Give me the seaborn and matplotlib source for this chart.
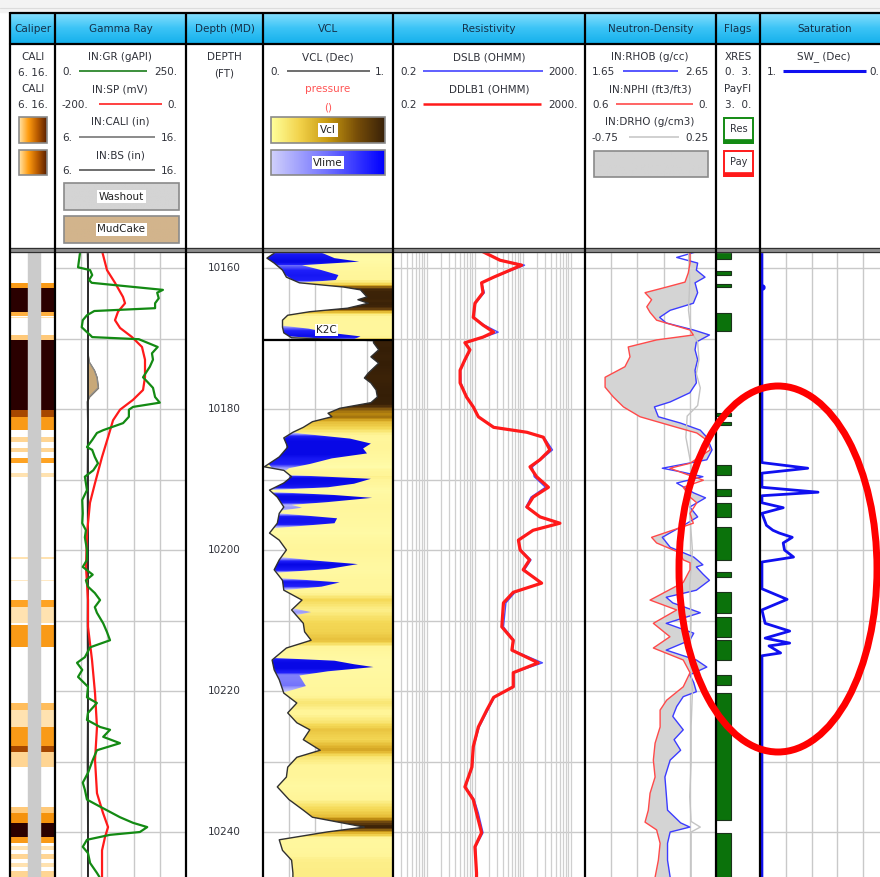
import numpy as np
import matplotlib
matplotlib.use("Agg")
import matplotlib.pyplot as plt
import seaborn as sns
from matplotlib.colors import LinearSegmentedColormap, Normalize
from matplotlib.patches import Rectangle, Ellipse

sns.set_theme(style="white")
plt.rcParams["font.family"] = ["DejaVu Sans"]

# ---------------------------------------------------------------- data
TRACK_TITLES = ["Caliper", "Gamma Ray", "Depth (MD)", "VCL", "Resistivity",
                "Neutron-Density", "Flags", "Saturation"]
DEPTH_LABELS = [10160, 10180, 10200, 10220, 10240]
GRID_DEPTHS = [10160, 10170, 10180, 10190, 10200, 10210, 10220, 10230, 10240]

GR_DEPTH = [10157.7, 10159.9, 10160.3, 10161.0, 10161.7, 10162.1, 10163.1, 10163.5, 10164.3,
            10165.0, 10165.7, 10166.1, 10166.7, 10167.4, 10168.4, 10169.1, 10169.5, 10169.8,
            10170.1, 10171.2, 10172.1, 10173.0, 10174.0, 10175.5, 10176.2, 10177.0, 10178.3,
            10179.1, 10179.7, 10180.1, 10181.1, 10182.0, 10183.0, 10183.4, 10184.4, 10185.4,
            10185.8, 10186.8, 10187.7, 10188.7, 10189.6, 10191.5, 10192.9, 10194.8, 10196.2,
            10197.2, 10198.2, 10200.0, 10201.4, 10202.4, 10203.5, 10204.3, 10205.2, 10206.1,
            10207.1, 10208.1, 10208.9, 10210.4, 10211.6, 10212.8, 10213.8, 10215.2, 10216.0,
            10217.0, 10218.0, 10219.4, 10220.9, 10221.7, 10223.1, 10224.1, 10225.1, 10225.5,
            10226.5, 10227.4, 10228.4, 10229.8, 10231.6, 10233.0, 10234.0, 10235.4, 10236.4,
            10237.9, 10238.7, 10239.3, 10240.0, 10240.4, 10241.1, 10242.1, 10243.0, 10244.4,
            10245.8, 10246.4]
GR = [48, 44, 67, 71, 65, 70, 206, 195, 198,
      191, 191, 75, 61, 53, 51, 61, 67, 71,
      160, 196, 185, 187, 181, 168, 177, 187, 191,
      200, 149, 141, 141, 130, 92, 80, 71, 61,
      71, 76, 82, 73, 57, 61, 52, 53, 52,
      59, 57, 61, 61, 53, 72, 59, 63, 76,
      86, 76, 80, 92, 99, 105, 67, 57, 42,
      52, 44, 63, 61, 80, 63, 61, 86, 105,
      92, 124, 80, 72, 63, 53, 57, 61, 86,
      124, 149, 176, 162, 105, 61, 53, 63, 67,
      80, 85]

SP_DEPTH = [10157.4, 10160.3, 10162.1, 10164.1, 10165.0, 10166.2, 10167.4, 10168.5, 10169.8,
            10171.2, 10173.0, 10175.5, 10177.3, 10178.7, 10180.1, 10181.6, 10184.0, 10186.8,
            10190.5, 10193.3, 10197.6, 10202.4, 10207.1, 10210.9, 10215.6, 10220.3, 10225.1,
            10229.8, 10234.5, 10237.3, 10239.3, 10240.7, 10242.6, 10246.4]
SP = [-128.7, -120.6, -108.4, -96.2, -93.1, -103.8, -108.4, -100.7, -82.4,
      -67.2, -62.6, -62.6, -65.6, -80.9, -100.7, -111.4, -119.0, -128.2,
      -138.9, -146.6, -151.1, -152.7, -149.6, -149.6, -143.5, -138.9, -135.9,
      -138.9, -135.9, -126.7, -119.0, -123.6, -128.2, -128.2]

CALI_DEPTH = [10157.7, 10162.0, 10166.0, 10169.0, 10172.0, 10173.3, 10174.5, 10175.5, 10177.0,
              10178.3, 10179.0, 10182.0, 10190.0, 10200.0, 10210.0, 10220.0, 10230.0, 10240.0,
              10246.4]
CALI = [8.45, 8.55, 8.5, 8.55, 8.5, 8.6, 9.0, 9.2, 9.3,
        8.6, 8.45, 8.5, 8.45, 8.5, 8.45, 8.5, 8.45, 8.5, 8.5]
BS = 8.5

# caliper image bands: top, bottom, intensity (0 white -> 1 dark brown)
CALIMG_TOP = [10162.1, 10162.8, 10166.2, 10166.9, 10169.5, 10170.2, 10180.1, 10181.1, 10184.0,
              10185.5, 10187.0, 10189.1, 10201.0, 10204.2, 10207.1, 10208.1, 10210.6, 10221.7,
              10222.7, 10225.1, 10227.9, 10228.7, 10236.4, 10237.3, 10238.7, 10240.8, 10242.0,
              10243.2, 10244.4, 10245.5]
CALIMG_BOT = [10162.8, 10166.2, 10166.7, 10167.1, 10170.2, 10180.1, 10181.1, 10183.0, 10184.7,
              10186.1, 10187.7, 10189.6, 10201.2, 10204.4, 10208.1, 10210.4, 10213.8, 10222.7,
              10225.1, 10227.9, 10228.7, 10230.8, 10237.3, 10238.7, 10240.8, 10241.6, 10242.6,
              10243.8, 10245.0, 10246.4]
CALIMG_LEVEL = [0.5, 1.0, 0.4, 0.2, 0.3, 1.0, 0.75, 0.5, 0.25,
                0.25, 0.45, 0.2, 0.2, 0.15, 0.45, 0.2, 0.5, 0.35,
                0.2, 0.5, 0.75, 0.25, 0.3, 0.55, 1.0, 0.5, 0.2,
                0.25, 0.2, 0.25]

VCL_DEPTH = [10157.7, 10157.9, 10158.6, 10159.3, 10160.3, 10161.3, 10162.1, 10162.7, 10163.1,
             10164.1, 10164.5, 10165.0, 10165.7, 10166.2, 10166.7, 10167.4, 10168.4, 10169.2,
             10169.9, 10170.3, 10170.6, 10171.6, 10172.6, 10173.5, 10174.9, 10175.6, 10176.3,
             10177.3, 10178.3, 10179.1, 10179.9, 10180.6, 10181.1, 10181.8, 10182.6, 10183.3,
             10184.1, 10185.4, 10186.8, 10188.2, 10188.7, 10189.6, 10190.5, 10191.5, 10192.5,
             10193.9, 10194.8, 10196.2, 10197.6, 10198.6, 10200.0, 10201.4, 10202.8, 10204.3,
             10205.7, 10207.1, 10208.5, 10210.4, 10211.6, 10212.8, 10213.9, 10215.6, 10217.0,
             10218.4, 10220.3, 10221.7, 10223.1, 10224.5, 10225.5, 10226.9, 10228.4, 10229.4,
             10230.8, 10232.2, 10233.6, 10235.4, 10236.9, 10237.9, 10239.3, 10240.0, 10241.1,
             10242.6, 10244.0, 10245.8, 10246.5]
VCL = [0.08, 0.086, 0.03, 0.086, 0.15, 0.18, 0.28, 0.62, 0.75,
       0.80, 0.73, 0.81, 0.65, 0.36, 0.19, 0.15, 0.15, 0.16,
       0.22, 0.85, 0.85, 0.89, 0.83, 0.89, 0.81, 0.78, 0.83,
       0.87, 0.88, 0.83, 0.59, 0.50, 0.53, 0.38, 0.31, 0.23,
       0.16, 0.19, 0.125, 0.01, 0.16, 0.22, 0.16, 0.05, 0.11,
       0.16, 0.125, 0.11, 0.05, 0.125, 0.18, 0.125, 0.086, 0.15,
       0.16, 0.30, 0.22, 0.31, 0.32, 0.37, 0.18, 0.07, 0.086,
       0.125, 0.16, 0.26, 0.19, 0.26, 0.36, 0.31, 0.44, 0.26,
       0.19, 0.18, 0.11, 0.20, 0.31, 0.38, 0.78, 0.49, 0.125,
       0.15, 0.22, 0.23, 0.23]

# Vlime shading: right edge (VCL + Vlime) for each limestone interval
VLIME_DEPTHS = [
    [10157.7, 10157.9, 10158.6, 10159.1, 10159.6, 10160.3, 10161.0, 10161.7, 10162.1],
    [10168.2, 10168.6, 10169.2, 10169.7, 10170.1],
    [10183.3, 10183.5, 10184.2, 10184.9, 10185.6, 10186.3, 10187.0, 10187.8, 10188.4, 10188.8],
    [10189.4, 10189.9, 10190.6, 10191.1, 10191.5],
    [10191.8, 10192.2, 10192.6, 10193.2, 10193.6, 10194.0, 10194.4],
    [10194.8, 10195.5, 10196.2, 10196.9],
    [10201.0, 10201.5, 10202.0, 10202.7, 10203.2],
    [10204.0, 10204.6, 10205.2, 10205.7],
    [10208.3, 10208.8, 10209.3],
    [10215.3, 10215.7, 10216.2, 10216.6, 10217.2, 10217.8, 10218.4, 10219.3, 10220.2],
]
VLIME_EDGES = [
    [0.40, 0.46, 0.55, 0.74, 0.30, 0.45, 0.58, 0.56, 0.28],
    [0.16, 0.35, 0.52, 0.75, 0.70],
    [0.23, 0.30, 0.67, 0.83, 0.77, 0.80, 0.53, 0.36, 0.20, 0.17],
    [0.25, 0.83, 0.70, 0.50, 0.06],
    [0.10, 0.55, 0.84, 0.50, 0.22, 0.30, 0.14],
    [0.13, 0.57, 0.55, 0.09],
    [0.14, 0.40, 0.73, 0.50, 0.12],
    [0.15, 0.59, 0.45, 0.16],
    [0.24, 0.37, 0.24],
    [0.08, 0.55, 0.70, 0.85, 0.50, 0.28, 0.30, 0.33, 0.16],
]

RES_DEPTH = [10157.7, 10158.9, 10159.6, 10160.3, 10161.3, 10162.1, 10163.5, 10165.0, 10167.0,
             10168.1, 10169.1, 10169.8, 10170.6, 10171.6, 10173.0, 10174.5, 10176.3, 10178.3,
             10179.7, 10181.1, 10182.6, 10183.3, 10184.0, 10185.8, 10187.2, 10188.2, 10189.6,
             10191.1, 10192.5, 10193.9, 10195.3, 10196.2, 10197.2, 10198.6, 10200.0, 10201.4,
             10202.8, 10204.7, 10206.0, 10207.5, 10210.9, 10212.8, 10214.2, 10216.0, 10217.4,
             10219.4, 10220.9, 10222.7, 10225.1, 10227.9, 10230.8, 10233.6, 10235.4, 10237.3,
             10240.1, 10242.1, 10245.8, 10246.4]
DDLB1 = [15, 34, 96, 55, 25, 14, 15, 10.2, 9.4,
         15, 25, 15, 6.3, 8, 6.3, 5.0, 5.0, 6.8,
         9.4, 12, 25, 123, 270, 372, 230, 143, 196,
         346, 166, 123, 230, 600, 166, 82, 89, 140,
         103, 250, 64, 40, 37, 64, 60, 212, 64,
         64, 25, 18, 12, 9.4, 8.8, 6.3, 9.4, 11,
         14, 10.2, 11, 11]
DSLB = [15, 36, 110, 60, 26, 14, 16, 10.5, 9.6,
        16, 31, 16, 6.5, 8.2, 6.5, 5.1, 5.2, 7.0,
        9.6, 12, 26, 120, 280, 420, 240, 160, 175,
        300, 150, 118, 240, 560, 160, 80, 92, 150,
        110, 235, 70, 45, 40, 66, 62, 260, 66,
        66, 26, 19, 12.5, 9.6, 9.0, 6.5, 9.8, 12,
        15, 10.5, 11, 11]

RHOB_DEPTH = [10157.7, 10158.5, 10159.3, 10160.3, 10161.3, 10162.1, 10163.5, 10165.0, 10166.0,
              10167.0, 10167.8, 10168.8, 10169.5, 10170.5, 10171.6, 10173.0, 10174.5, 10176.3,
              10177.7, 10179.0, 10179.7, 10181.1, 10182.0, 10183.0, 10184.0, 10185.8, 10187.2,
              10188.4, 10188.9, 10189.6, 10190.5, 10191.9, 10192.6, 10193.9, 10195.3, 10196.2,
              10198.2, 10199.6, 10201.0, 10202.1, 10202.4, 10203.4, 10204.3, 10205.7, 10206.7,
              10207.5, 10208.9, 10210.4, 10211.8, 10212.8, 10214.2, 10215.6, 10216.6, 10217.7,
              10218.8, 10220.1, 10220.8, 10222.2, 10223.6, 10225.5, 10226.9, 10228.4, 10229.8,
              10232.2, 10234.5, 10236.9, 10238.7, 10239.3, 10240.0, 10241.6, 10244.0, 10246.4]
RHOB = [2.50, 2.35, 2.51, 2.50, 2.566, 2.49, 2.51, 2.477, 2.30,
        2.22, 2.27, 2.48, 2.60, 2.50, 2.49, 2.51, 2.49, 2.50,
        2.45, 2.30, 2.18, 2.21, 2.38, 2.53, 2.58, 2.62, 2.58,
        2.24, 2.38, 2.55, 2.35, 2.48, 2.57, 2.45, 2.51, 2.43,
        2.24, 2.30, 2.48, 2.55, 2.50, 2.55, 2.60, 2.50, 2.27,
        2.32, 2.53, 2.27, 2.48, 2.45, 2.27, 2.50, 2.58, 2.45,
        2.48, 2.50, 2.40, 2.35, 2.32, 2.40, 2.33, 2.38, 2.30,
        2.26, 2.27, 2.28, 2.38, 2.45, 2.30, 2.28, 2.28, 2.30]

NPHI_DEPTH = [10157.7, 10159.3, 10160.7, 10162.0, 10162.7, 10163.5, 10164.5, 10165.5, 10166.3,
              10167.4, 10168.8, 10169.5, 10170.2, 10171.2, 10172.6, 10174.0, 10175.5, 10176.9,
              10178.3, 10179.7, 10181.1, 10182.6, 10183.4, 10184.4, 10185.8, 10187.7, 10188.4,
              10189.1, 10190.1, 10191.1, 10192.5, 10193.3, 10194.8, 10196.2, 10198.2, 10199.0,
              10200.4, 10201.4, 10201.8, 10202.8, 10204.6, 10207.1, 10208.5, 10210.4, 10212.3,
              10213.9, 10215.6, 10217.4, 10219.4, 10221.3, 10222.7, 10225.1, 10227.4, 10229.8,
              10232.2, 10234.5, 10236.9, 10238.6, 10239.7, 10241.6, 10244.0, 10246.4]
NPHI = [0.119, 0.119, 0.127, 0.142, 0.226, 0.325, 0.295, 0.317, 0.302,
        0.272, 0.119, 0.104, 0.272, 0.402, 0.394, 0.417, 0.508, 0.508,
        0.47, 0.424, 0.348, 0.18, 0.088, 0.043, 0.027, 0.119, 0.211,
        0.15, 0.058, 0.15, 0.119, 0.088, 0.119, 0.104, 0.295, 0.272,
        0.165, 0.15, 0.119, 0.119, 0.15, 0.302, 0.18, 0.287, 0.211,
        0.287, 0.15, 0.119, 0.15, 0.226, 0.256, 0.256, 0.279, 0.287,
        0.279, 0.302, 0.31, 0.325, 0.272, 0.256, 0.264, 0.279]

DRHO_DEPTH = [10157.7, 10162.0, 10166.0, 10169.0, 10170.5, 10173.0, 10175.0, 10177.0, 10179.5,
              10181.0, 10184.0, 10186.0, 10188.0, 10195.0, 10200.0, 10205.0, 10210.0, 10215.0,
              10220.0, 10225.0, 10230.0, 10235.0, 10238.5, 10239.3, 10240.0, 10246.4]
DRHO = [0.04, 0.05, 0.04, 0.06, 0.11, 0.12, 0.10, 0.13, 0.11,
        0.03, 0.02, 0.04, 0.06, 0.05, 0.07, 0.05, 0.06, 0.05,
        0.07, 0.06, 0.06, 0.05, 0.06, 0.13, 0.06, 0.06]

RES_FLAG_TOP = [10157.7, 10160.4, 10162.3, 10166.4, 10180.6, 10181.8, 10187.9, 10191.3, 10193.3,
                10196.7, 10203.1, 10206.0, 10209.5, 10212.8, 10217.7, 10220.3, 10240.1]
RES_FLAG_BOT = [10158.7, 10161.0, 10162.7, 10168.9, 10181.0, 10182.3, 10189.4, 10192.3, 10195.3,
                10201.4, 10203.8, 10208.9, 10212.3, 10215.6, 10219.1, 10238.3, 10246.5]
XRES = 1.0

SW_DEPTH = [10157.7, 10187.6, 10188.4, 10189.1, 10191.1, 10191.8, 10192.3, 10193.3, 10194.0,
            10194.8, 10196.5, 10197.2, 10197.6, 10198.2, 10199.0, 10200.0, 10201.0, 10201.7,
            10205.5, 10207.0, 10208.5, 10210.4, 10211.5, 10212.5, 10213.2, 10213.6, 10214.6,
            10215.0, 10246.5]
SW = [0.985, 0.985, 0.63, 0.985, 0.985, 0.55, 0.985, 0.985, 0.82,
      0.985, 0.95, 0.90, 0.85, 0.75, 0.82, 0.81, 0.74, 0.985,
      0.985, 0.79, 0.985, 0.96, 0.77, 0.96, 0.77, 0.93, 0.84,
      0.985, 0.985]
SW_POINT = (0.985, 10162.7)

# ---------------------------------------------------------------- layout
W, H = 880, 877
TOP_D, BOT_D = 10157.73, 10246.38
DY0, DY1 = 252, 877
XB = [10, 55, 186, 263, 393, 585, 716, 760, 889]
GRIDC = "#c9c9c9"
TXT = "#30323a"
FS = 7.5

fig = plt.figure(figsize=(W / 100, H / 100), dpi=100)
fig.patch.set_facecolor("white")

# ---------------------------------------------------------------- header (pixel axes)
bg = fig.add_axes([0, 0, 1, 1], zorder=0)
bg.set_axis_off()
bg.add_patch(Rectangle((0, 0), W, 12, color="#f3f3f3", zorder=0))
title_cmap = LinearSegmentedColormap.from_list("tb", ["#8be0fd", "#3cc4f6", "#14b0ec"])
bg.imshow(np.linspace(0, 1, 64)[:, None], cmap=title_cmap, extent=[10, W, 44, 12],
          aspect="auto", origin="upper", zorder=1)
for i, t in enumerate(TRACK_TITLES):
    cx = (XB[i] + XB[i + 1]) / 2
    bg.text(cx, 28.5, t, ha="center", va="center", fontsize=FS, color="#15324a", zorder=3,
            clip_on=True)


def htext(x, y, s, ha="center", color=TXT, fs=FS):
    bg.text(x, y, s, ha=ha, va="center", fontsize=fs, color=color, zorder=3)


def hline(x0, x1, y, color, lw=1.2):
    bg.plot([x0, x1], [y, y], color=color, lw=lw, solid_capstyle="butt", zorder=3)


def gbox(x0, y0, x1, y1, colors, label=None):
    cm = LinearSegmentedColormap.from_list("g", colors)
    bg.imshow(np.linspace(0, 1, 64)[None, :], cmap=cm, extent=[x0, x1, y1, y0],
              aspect="auto", origin="upper", zorder=2)
    bg.add_patch(Rectangle((x0, y0), x1 - x0, y1 - y0, fill=False, ec="#8a8a8a", lw=1.2, zorder=3))
    if label:
        bg.text((x0 + x1) / 2, (y0 + y1) / 2, label, ha="center", va="center", fontsize=FS,
                color="#222", zorder=4, bbox=dict(facecolor="white", edgecolor="none", pad=1.2))


# Caliper header
htext(33, 57, "CALI"); htext(33, 73, "6. 16.")
htext(33, 89, "CALI"); htext(33, 105, "6. 16.")
gbox(19, 117, 47, 143, ["#ffe3a8", "#ff9d10", "#b85a00", "#5a2000"])
gbox(19, 150, 47, 175, ["#ffe3a8", "#ff9d10", "#b85a00", "#5a2000"])
# Gamma ray header
htext(120, 57, "IN:GR (gAPI)"); htext(62, 72, "0.", ha="left"); htext(177, 72, "250.", ha="right")
hline(79, 147, 71, "#1a7d1a")
htext(120, 90, "IN:SP (mV)"); htext(62, 105, "-200.", ha="left"); htext(177, 105, "0.", ha="right")
hline(99, 162, 104, "#ff2020")
htext(120, 122, "IN:CALI (in)"); htext(62, 138, "6.", ha="left"); htext(177, 138, "16.", ha="right")
hline(79, 155, 137, "#777777")
htext(120, 155, "IN:BS (in)"); htext(62, 171, "6.", ha="left"); htext(177, 171, "16.", ha="right")
hline(79, 155, 170, "#555555")
gbox(64, 183, 179, 210, ["#d4d4d4", "#d4d4d4"], "Washout")
gbox(64, 216, 179, 243, ["#d2b48c", "#d2b48c"], "MudCake")
# Depth header
htext(224, 57, "DEPTH"); htext(224, 74, "(FT)")
# VCL header
htext(328, 57, "VCL (Dec)"); htext(270, 72, "0.", ha="left"); htext(385, 72, "1.", ha="right")
hline(287, 370, 71, "#555555")
htext(328, 89, "pressure", color="#ff5555"); htext(328, 107, "()", color="#ff5555")
gbox(271, 117, 385, 143, ["#ffff9a", "#f2d24a", "#c89a10", "#7a5008", "#3a2208"], "Vcl")
gbox(271, 150, 385, 175, ["#cfcffb", "#7070ff", "#0000ff"], "Vlime")
# Resistivity header
htext(489, 57, "DSLB (OHMM)"); htext(400, 72, "0.2", ha="left"); htext(578, 72, "2000.", ha="right")
hline(423, 543, 71, "#4444ff")
htext(489, 89, "DDLB1 (OHMM)"); htext(400, 105, "0.2", ha="left"); htext(578, 105, "2000.", ha="right")
hline(423, 541, 104, "#ff1a1a", lw=1.8)
# Neutron-density header
htext(650, 57, "IN:RHOB (g/cc)"); htext(592, 72, "1.65", ha="left"); htext(708, 72, "2.65", ha="right")
hline(623, 678, 71, "#3a3aff")
htext(650, 90, "IN:NPHI (ft3/ft3)"); htext(592, 105, "0.6", ha="left"); htext(708, 105, "0.", ha="right")
hline(616, 693, 104, "#ff4a4a")
htext(650, 122, "IN:DRHO (g/cm3)"); htext(592, 138, "-0.75", ha="left"); htext(708, 138, "0.25", ha="right")
hline(629, 679, 137, "#c8c8c8")
gbox(594, 151, 708, 177, ["#d3d3d3", "#d3d3d3"])
# Flags header
htext(738, 57, "XRES"); htext(738, 72, "0.  3.")
htext(738, 89, "PayFl"); htext(738, 105, "3.  0.")
for (y0, col, lab) in [(118, "#138a13", "Res"), (151, "#ff1a1a", "Pay")]:
    bg.add_patch(Rectangle((724, y0), 29, 25, facecolor="white", ec=col, lw=1.4, zorder=3))
    bg.add_patch(Rectangle((724, y0 + 21), 29, 4, facecolor=col, ec=col, lw=0.5, zorder=3))
    htext(738.5, y0 + 11, lab, fs=7)
# Saturation header
htext(824, 57, "SW_ (Dec)"); htext(767, 72, "1.", ha="left"); htext(879, 72, "0.", ha="right")
hline(783, 866, 71, "#1010f0", lw=2.2)
bg.set_xlim(0, W)
bg.set_ylim(H, 0)


# ---------------------------------------------------------------- data tracks
def track(i, xlim, log=False, z=2):
    x0, x1 = XB[i], XB[i + 1]
    ax = fig.add_axes([x0 / W, 1 - DY1 / H, (x1 - x0) / W, (DY1 - DY0) / H], zorder=z)
    if log:
        ax.set_xscale("log")
    ax.set_xlim(*xlim)
    ax.set_ylim(BOT_D, TOP_D)
    ax.set_axis_off()
    return ax


def finish(ax, xlim):
    ax.set_xlim(*xlim)
    ax.set_ylim(BOT_D, TOP_D)


def curve(ax, x, y, color, lw, z=3):
    sns.lineplot(x=np.asarray(x, float), y=np.asarray(y, float), sort=False, estimator=None,
                 ax=ax, color=color, linewidth=lw, legend=False, zorder=z)


def grid(ax, xs):
    for d in GRID_DEPTHS:
        ax.axhline(d, color=GRIDC, lw=1.0, zorder=0)
    for x in xs:
        ax.axvline(x, color=GRIDC, lw=1.0, zorder=0)


def shaded(ax, d, left, right, vals, cmap, norm, z):
    d = np.asarray(d, float)
    poly = ax.fill_betweenx(d, left, right, facecolor="none", edgecolor="none", zorder=z)
    g = np.linspace(d.min(), d.max(), 400)
    v = np.interp(g, d, vals)
    im = ax.imshow(v[:, None], cmap=cmap, norm=norm, aspect="auto",
                   extent=[0, 1, d.max(), d.min()], origin="upper",
                   interpolation="nearest", zorder=z)
    im.set_clip_path(poly.get_paths()[0], transform=ax.transData)


# Caliper image
ax = track(0, (0, 1))
cal_cmap = LinearSegmentedColormap.from_list(
    "cal", [(0, "#ffffff"), (0.2, "#ffe2b0"), (0.45, "#ffa424"), (0.6, "#f08a00"),
            (0.78, "#9a3c00"), (1.0, "#2a0000")])
gd = np.linspace(TOP_D, BOT_D, 1800)
lev = np.zeros_like(gd)
for t, b, l in zip(CALIMG_TOP, CALIMG_BOT, CALIMG_LEVEL):
    lev[(gd >= t) & (gd <= b)] = l
ax.imshow(lev[:, None], cmap=cal_cmap, vmin=0, vmax=1, aspect="auto",
          extent=[0, 1, BOT_D, TOP_D], origin="upper", interpolation="nearest", zorder=1)
ax.axvspan(0.4, 0.665, color="#cbcbcb", zorder=2)
finish(ax, (0, 1))

# Gamma ray track
ax = track(1, (0, 1))
grid(ax, [0.2, 0.4, 0.6, 0.8])
axc = track(1, (6, 16), z=3)
cd = np.asarray(CALI_DEPTH, float)
axc.fill_betweenx(cd, BS, CALI, where=np.asarray(CALI) > BS + 0.05, interpolate=True,
                  color="#c8a878", ec="#6b5a40", lw=0.6, zorder=2)
curve(axc, CALI, CALI_DEPTH, "#8a8a8a", 1.0)
axc.axvline(BS, color="#202020", lw=1.3, zorder=4)
finish(axc, (6, 16))
axs = track(1, (-200, 0), z=4)
curve(axs, SP, SP_DEPTH, "#ff1a1a", 1.6)
finish(axs, (-200, 0))
axg = track(1, (0, 250), z=5)
curve(axg, GR, GR_DEPTH, "#138a13", 1.6)
finish(axg, (0, 250))

# Depth track
ax = track(2, (0, 1))
for d in DEPTH_LABELS:
    ax.text(0.5, d, str(d), ha="center", va="center", fontsize=FS, color=TXT)
finish(ax, (0, 1))

# VCL track
ax = track(3, (0, 1))
grid(ax, [0.2, 0.4, 0.6, 0.8])
vcl_cmap = LinearSegmentedColormap.from_list(
    "vcl", [(0, "#fffcaa"), (0.2, "#fff598"), (0.3, "#f5da58"), (0.4, "#e2b630"),
            (0.5, "#b8860f"), (0.62, "#6a4410"), (0.75, "#3e2408"), (1.0, "#2e1a06")])
shaded(ax, VCL_DEPTH, VCL, 1.0, VCL, vcl_cmap, Normalize(0, 1), z=1)
blue_cmap = LinearSegmentedColormap.from_list(
    "bl", [(0, "#d2d2fb"), (0.25, "#9090fb"), (0.5, "#2020fa"), (1.0, "#0808e6")])
for sd, se in zip(VLIME_DEPTHS, VLIME_EDGES):
    left = np.interp(sd, VCL_DEPTH, VCL)
    thick = np.clip(np.asarray(se) - left, 0, None)
    shaded(ax, sd, left, se, thick, blue_cmap, Normalize(0, 0.6), z=2)
curve(ax, VCL, VCL_DEPTH, "#303030", 1.0, z=4)
ax.axhline(10170.15, color="black", lw=1.6, zorder=5)
ax.text(0.49, 10168.8, "K2C", ha="center", va="center", fontsize=FS, color="#222", zorder=6,
        bbox=dict(facecolor="white", edgecolor="none", pad=1.0))
finish(ax, (0, 1))

# Resistivity track
ax = track(4, (0.2, 2000), log=True)
for d in GRID_DEPTHS:
    ax.axhline(d, color=GRIDC, lw=1.0, zorder=0)
for e in range(-1, 4):
    for k in range(1, 10):
        v = k * 10.0 ** e
        if 0.2 < v < 2000:
            ax.axvline(v, color="#cfcfcf", lw=0.9, zorder=0)
curve(ax, DSLB, RES_DEPTH, "#4a4aff", 1.0, z=3)
curve(ax, DDLB1, RES_DEPTH, "#ff1a1a", 2.3, z=4)
finish(ax, (0.2, 2000))

# Neutron-density track
ax = track(5, (1.65, 2.65))
grid(ax, [1.85, 2.05, 2.25, 2.45])
g = np.linspace(TOP_D, BOT_D, 2000)
r_g = np.interp(g, RHOB_DEPTH, RHOB)
n_g = 1.65 + (0.6 - np.interp(g, NPHI_DEPTH, NPHI)) / 0.6
ax.fill_betweenx(g, n_g, r_g, where=n_g < r_g, interpolate=True, color="#d4d4d4", lw=0, zorder=1)
curve(ax, RHOB, RHOB_DEPTH, "#3c3cff", 1.0, z=4)
finish(ax, (1.65, 2.65))
axd = track(5, (-0.75, 0.25), z=3)
curve(axd, DRHO, DRHO_DEPTH, "#c4c4c4", 1.0, z=2)
finish(axd, (-0.75, 0.25))
axn = track(5, (0.6, 0.0), z=4)
curve(axn, NPHI, NPHI_DEPTH, "#ff4a4a", 1.0, z=3)
finish(axn, (0.6, 0.0))

# Flags track
ax = track(6, (0, 3))
tops = np.asarray(RES_FLAG_TOP)
bots = np.asarray(RES_FLAG_BOT)
ax.barh(y=(tops + bots) / 2, width=XRES, height=bots - tops, left=0, color="#0b720b",
        edgecolor="#1c331c", linewidth=0.8, zorder=2)
finish(ax, (0, 3))

# Saturation track
ax = track(7, (1, 0))
grid(ax, [0.8, 0.6, 0.4, 0.2])
curve(ax, SW, SW_DEPTH, "#1010f0", 2.0, z=3)
ax.plot([SW_POINT[0]], [SW_POINT[1]], "o", color="#1010f0", ms=3.5, zorder=4)
finish(ax, (1, 0))

# ---------------------------------------------------------------- borders and annotation
ov = fig.add_axes([0, 0, 1, 1], zorder=30)
ov.set_axis_off()
ov.add_patch(Rectangle((10, 248), W - 10, 4, color="#8c8c8c", zorder=1))
ov.plot([10, W], [248, 248], color="#303030", lw=0.8)
ov.plot([10, W], [252, 252], color="#303030", lw=0.8)
for x in XB[:-1]:
    ov.plot([x, x], [12, H], color="black", lw=1.6, solid_capstyle="butt")
ov.plot([10, W], [12.5, 12.5], color="black", lw=1.6)
ov.plot([10, W], [44, 44], color="black", lw=1.6)
ov.plot([0, W], [8, 8], color="#dcdcdc", lw=0.8)
ov.add_patch(Ellipse((778, 569), 198, 366, fill=False, ec="#ff0000", lw=5.0, zorder=5))
ov.set_xlim(0, W)
ov.set_ylim(H, 0)

fig.savefig("out.png", dpi=100)
